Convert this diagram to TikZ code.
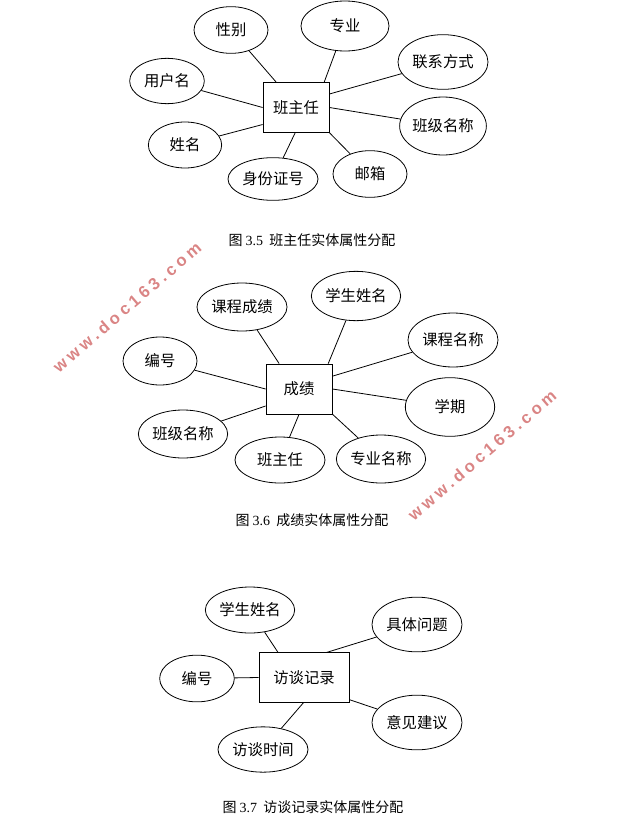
\documentclass[tikz,border=0pt]{standalone}
\usepackage{fontspec}
\setmainfont{Noto Sans CJK SC}
\newfontfamily\numfont{Liberation Serif}
\newfontfamily\markfont[LetterSpace=23]{Liberation Sans}
\usetikzlibrary{shapes.geometric}
\definecolor{wmred}{HTML}{DA8585}
\tikzset{
  entity/.style={draw,line width=0.6pt,rectangle,minimum width=49.5pt,
    minimum height=37.5pt,inner sep=0pt,font=\fontsize{11.5}{13}\selectfont},
  attr/.style={draw,line width=0.6pt,ellipse,inner sep=0pt,minimum width=67pt,
    minimum height=36pt,font=\fontsize{11.5}{13}\selectfont},
  link/.style={line width=0.6pt},
  figcap/.style={inner sep=0pt,font=\fontsize{10.5}{12}\selectfont},
  wmark/.style={inner sep=0pt,text=wmred,rotate=40.6,
    font=\markfont\bfseries\fontsize{12.5}{13}\selectfont}
}

\begin{document}
\begin{tikzpicture}[x=0.75pt,y=-0.75pt]
  \useasboundingbox (0,0) rectangle (635,835);
  % 图 3.5
  \node[entity] (bzr) at (296,107.5) {班主任};
  \node[attr,minimum width=55.5pt,minimum height=35pt] (xb) at (231,30) {性别};
  \node[attr,minimum width=66pt,minimum height=37.5pt] (zy) at (345,26) {专业};
  \node[attr,minimum width=67.5pt,minimum height=41pt] (lxfs) at (443,62) {联系方式};
  \node[attr,minimum width=56pt,minimum height=34pt] (yhm) at (167,81) {用户名};
  \node[attr,minimum width=60pt,minimum height=43.5pt] (bjmc) at (443,126) {班级名称};
  \node[attr,minimum width=55pt,minimum height=34.5pt] (xm) at (185,145) {姓名};
  \node[attr,minimum width=67.5pt,minimum height=32pt] (sfzh) at (273,179) {身份证号};
  \node[attr,minimum width=55.5pt,minimum height=35pt] (yx) at (370,174) {邮箱};
  \draw[link] (xb) -- (bzr.128);
  \draw[link] (zy) -- (bzr.42);
  \draw[link] (lxfs) -- (bzr.22);
  \draw[link] (yhm) -- (bzr.180);
  \draw[link] (bjmc) -- (bzr.0);
  \draw[link] (xm) -- (bzr.207);
  \draw[link] (sfzh) -- (bzr.268);
  \draw[link] (yx) -- (bzr.323);
  \node[figcap] (cap1) at (312,240) {图 {\numfont 3.5}\ \ 班主任实体属性分配};

  % 图 3.6
  \node[entity] (cj) at (299,389) {成绩};
  \node[attr,minimum width=67.5pt,minimum height=36pt] (kccj) at (242,307) {课程成绩};
  \node[attr,minimum width=67pt,minimum height=37pt] (xsxm) at (356,296) {学生姓名};
  \node[attr,minimum width=67.5pt,minimum height=40.5pt] (kcmc) at (453,340) {课程名称};
  \node[attr,minimum width=55.5pt,minimum height=36pt] (bh) at (160,361) {编号};
  \node[attr,minimum width=67pt,minimum height=44pt] (xq) at (450,407) {学期};
  \node[attr,minimum width=67pt,minimum height=36pt] (bjmc2) at (183,434) {班级名称};
  \node[attr,minimum width=67.5pt,minimum height=34.5pt] (bzr2) at (280,460) {班主任};
  \node[attr,minimum width=67pt,minimum height=36pt] (zymc) at (381,459) {专业名称};
  \draw[link] (kccj) -- (cj.128);
  \draw[link] (xsxm) -- (cj.41);
  \draw[link] (kcmc) -- (cj.21);
  \draw[link] (bh) -- (cj.180);
  \draw[link] (xq) -- (cj.0);
  \draw[link] (bjmc2) -- (cj.207);
  \draw[link] (bzr2) -- (cj.270);
  \draw[link] (zymc) -- (cj.323);
  \node[figcap] (cap2) at (312,520) {图 {\numfont 3.6}\ \ 成绩实体属性分配};

  % 图 3.7
  \node[entity,minimum width=67.5pt,minimum height=37pt] (ftjl) at (304,677.5) {访谈记录};
  \node[attr,minimum width=67pt,minimum height=34.5pt] (xsxm3) at (250,610) {学生姓名};
  \node[attr,minimum width=67.5pt,minimum height=41pt] (jtwt) at (417,624.5) {具体问题};
  \node[attr,minimum width=56pt,minimum height=35pt] (bh3) at (197,678.5) {编号};
  \node[attr,minimum width=67.5pt,minimum height=41pt] (yjjy) at (417,722.5) {意见建议};
  \node[attr,minimum width=67.5pt,minimum height=34pt] (ftsj) at (263,749.5) {访谈时间};
  \draw[link] (xsxm3) -- (ftjl.136);
  \draw[link] (jtwt) -- (ftjl.48);
  \draw[link] (bh3) -- (ftjl.180);
  \draw[link] (yjjy) -- (ftjl.334);
  \draw[link] (ftsj) -- (ftjl.269);
  \node[figcap] (cap3) at (313,807) {图 {\numfont 3.7}\ \ 访谈记录实体属性分配};

  % 水印
  \node[wmark] (wm1) at (127,307) {www.doc163.com};
  \node[wmark] (wm2) at (482,455) {www.doc163.com};
\end{tikzpicture}
\end{document}
